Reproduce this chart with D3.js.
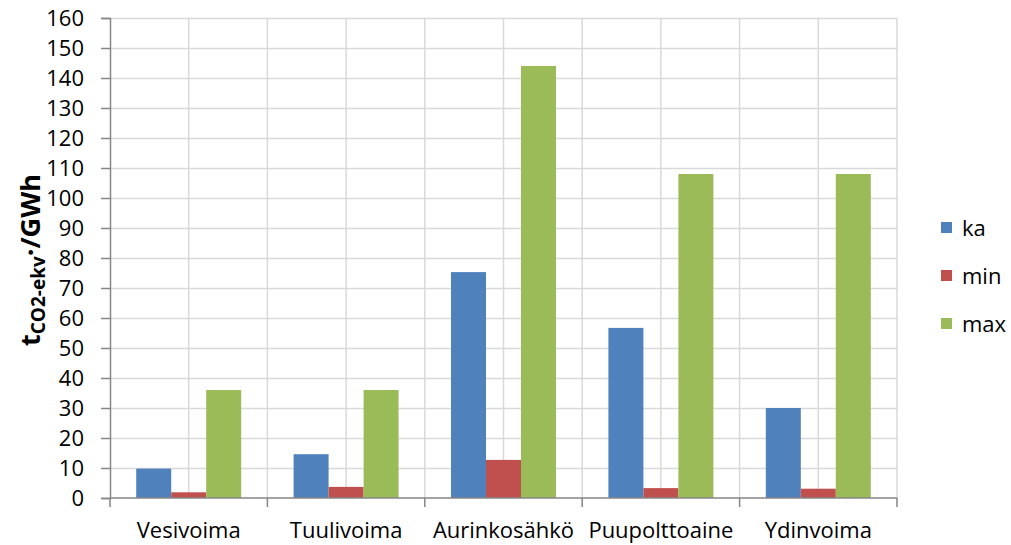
<!DOCTYPE html>
<html>
<head>
<meta charset="utf-8">
<script src="https://cdn.jsdelivr.net/npm/d3@7"></script>
<style>
  body { margin: 0; background: #fff; }
  svg { display: block; font-family: "Open Sans", sans-serif; }
</style>
</head>
<body>
<svg id="chart" width="1011" height="545"></svg>
<script>
// Elinkaaripäästöt energialähteittäin (t CO2-ekv / GWh)
const categories = ["Vesivoima", "Tuulivoima", "Aurinkosähkö", "Puupolttoaine", "Ydinvoima"];
const seriesNames = ["ka", "min", "max"];
const ka  = [9.8, 14.6, 75.3, 56.7, 30];
const min = [1.9, 3.7, 12.7, 3.3, 3.1];
const max = [36, 36, 144, 108, 108];
const yTicks = d3.range(0, 161, 10);
const colors = ["#4f81bd", "#c0504d", "#9bbb59"];

const seriesValues = [ka, min, max];
const FONT = "'Open Sans', sans-serif";

const svg = d3.select("#chart");
const margin = { left: 110, right: 114, top: 18, bottom: 47 };
const W = 1011, H = 545;
const plotW = W - margin.left - margin.right;
const plotH = H - margin.top - margin.bottom;

const g = svg.append("g").attr("transform", `translate(${margin.left},${margin.top})`);

const x = d3.scaleBand().domain(categories).range([0, plotW]);
const inner = d3.scaleBand().domain(seriesNames)
  .range([0, x.bandwidth() * 0.667]);
const y = d3.scaleLinear().domain([0, 160]).range([plotH, 0]);

// Horizontal gridlines
g.append("g").selectAll("line").data(yTicks.slice(1)).join("line")
  .attr("x1", 0).attr("x2", plotW)
  .attr("y1", d => Math.round(y(d)) + 0.5).attr("y2", d => Math.round(y(d)) + 0.5)
  .attr("stroke", "#d9d9d9").attr("stroke-width", 1.5);

// Vertical gridlines at category boundaries and centres
const vLines = [];
categories.forEach(c => { vLines.push(x(c)); vLines.push(x(c) + x.bandwidth() / 2); });
vLines.push(plotW);
g.append("g").selectAll("line").data(vLines.slice(1)).join("line")
  .attr("x1", d => d).attr("x2", d => d)
  .attr("y1", 0).attr("y2", plotH)
  .attr("stroke", "#d9d9d9").attr("stroke-width", 1.5);

// Bars
const groups = g.append("g").selectAll("g").data(categories).join("g")
  .attr("transform", c => `translate(${x(c) + x.bandwidth() * 0.1665},0)`);
groups.selectAll("rect")
  .data((c, i) => seriesNames.map((s, j) => ({ s, v: seriesValues[j][i], j })))
  .join("rect")
  .attr("x", d => inner(d.s))
  .attr("width", inner.bandwidth())
  .attr("y", d => y(d.v))
  .attr("height", d => y(0) - y(d.v))
  .attr("fill", d => colors[d.j]);

// Y axis
const yAxis = g.append("g")
  .call(d3.axisLeft(y).tickValues(yTicks).tickSize(9).tickPadding(17));
yAxis.select(".domain").attr("stroke", "#868686").attr("stroke-width", 1.5);
yAxis.selectAll(".tick line").attr("stroke", "#868686").attr("stroke-width", 1.5);
yAxis.selectAll("text").attr("font-size", 22).attr("fill", "#000")
  .style("font-family", FONT);

// X axis with ticks at category boundaries
const xAxisG = g.append("g").attr("transform", `translate(0,${plotH})`);
xAxisG.append("line").attr("x1", 0).attr("x2", plotW).attr("y1", 0).attr("y2", 0)
  .attr("stroke", "#868686").attr("stroke-width", 1.5);
const bounds = categories.map(c => x(c)).concat([plotW]);
xAxisG.selectAll("line.tk").data(bounds).join("line").attr("class", "tk")
  .attr("x1", d => d).attr("x2", d => d).attr("y1", 0).attr("y2", 9)
  .attr("stroke", "#868686").attr("stroke-width", 1.5);
xAxisG.selectAll("text").data(categories).join("text")
  .attr("x", c => x(c) + x.bandwidth() / 2)
  .attr("y", 40)
  .attr("text-anchor", "middle")
  .attr("font-size", 22)
  .attr("fill", "#000")
  .text(c => c);

// Y axis title
const yt = svg.append("text")
  .attr("transform", "translate(40,260) rotate(-90)")
  .attr("text-anchor", "middle")
  .attr("font-weight", "bold")
  .attr("font-size", 27)
  .attr("fill", "#000");
yt.append("tspan").text("t");
yt.append("tspan").attr("font-size", 19).attr("dy", 5).text("CO2-ekv");
yt.append("tspan").attr("dy", -5).text("·/GWh");

// Legend
const legend = svg.append("g").attr("transform", "translate(941,0)");
const legendY = [228, 276, 324];
seriesNames.forEach((s, i) => {
  legend.append("rect").attr("x", 0).attr("y", legendY[i] - 6)
    .attr("width", 11).attr("height", 11).attr("fill", colors[i]);
  legend.append("text").attr("x", 21).attr("y", legendY[i] + 8)
    .attr("font-size", 22).attr("fill", "#000").text(s);
});
</script>
</body>
</html>
